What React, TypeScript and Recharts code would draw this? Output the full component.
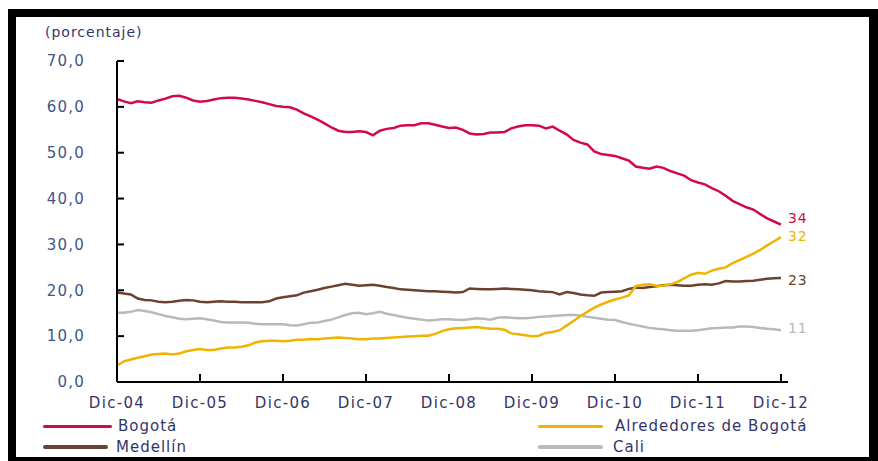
import React from 'react';
import { LineChart, Line, XAxis, YAxis } from 'recharts';

const tickLabels = ['Dic-04', 'Dic-05', 'Dic-06', 'Dic-07', 'Dic-08', 'Dic-09', 'Dic-10', 'Dic-11', 'Dic-12'];
const yTicks = [0, 10, 20, 30, 40, 50, 60, 70];

const bogota = [
  61.7, 61.2, 60.8, 61.2, 61.0, 60.9, 61.4, 61.8, 62.3, 62.4, 62.0, 61.4,
  61.1, 61.3, 61.6, 61.9, 62.0, 62.0, 61.8, 61.6, 61.3, 61.0, 60.6, 60.2,
  60.0, 59.9, 59.4, 58.6, 57.9, 57.2, 56.4, 55.5, 54.8, 54.5, 54.5, 54.7,
  54.5, 53.8, 54.8, 55.2, 55.4, 55.9, 56.0, 56.0, 56.4, 56.4, 56.1, 55.7,
  55.4, 55.5, 55.0, 54.2, 54.0, 54.1, 54.4, 54.4, 54.5, 55.3, 55.7, 56.0,
  56.0, 55.9, 55.3, 55.7, 54.8, 54.0, 52.8, 52.2, 51.8, 50.3, 49.7, 49.5,
  49.3, 48.8, 48.3, 47.0, 46.7, 46.5, 47.0, 46.7, 46.0, 45.5, 45.0, 44.0,
  43.5, 43.1, 42.3, 41.6, 40.6, 39.5, 38.8, 38.1, 37.6, 36.6, 35.7, 35.0,
  34.3,
];

const alrededores = [
  3.6, 4.5, 4.9, 5.3, 5.6, 6.0, 6.1, 6.2, 6.0, 6.2, 6.7, 7.0,
  7.2, 7.0, 7.0, 7.3, 7.5, 7.5, 7.7, 8.0, 8.6, 8.9, 9.0, 9.0,
  8.9, 9.0, 9.2, 9.2, 9.4, 9.3, 9.5, 9.6, 9.7, 9.6, 9.5, 9.3,
  9.3, 9.5, 9.5, 9.6, 9.7, 9.8, 9.9, 10.0, 10.1, 10.1, 10.5, 11.1,
  11.5, 11.7, 11.8, 11.9, 12.0, 11.8, 11.6, 11.6, 11.4, 10.6, 10.4, 10.2,
  10.0, 10.1, 10.7, 10.9, 11.3, 12.3, 13.3, 14.4, 15.3, 16.2, 16.9, 17.5,
  18.0, 18.4, 18.9, 20.9, 21.2, 21.3, 21.0, 21.0, 21.3, 21.8, 22.6, 23.4,
  23.8, 23.6, 24.3, 24.7, 25.0, 25.9, 26.6, 27.3, 28.0, 28.8, 29.8, 30.7,
  31.6,
];

const medellin = [
  19.5, 19.3, 19.1, 18.2, 17.9, 17.8, 17.5, 17.4, 17.5, 17.7, 17.9, 17.8,
  17.5, 17.4, 17.5, 17.6, 17.5, 17.5, 17.4, 17.4, 17.4, 17.4, 17.6, 18.2,
  18.5, 18.7, 18.9, 19.5, 19.8, 20.1, 20.5, 20.8, 21.1, 21.4, 21.2, 21.0,
  21.1, 21.2, 21.0, 20.7, 20.5, 20.2, 20.1, 20.0, 19.9, 19.8, 19.8, 19.7,
  19.6, 19.5, 19.6, 20.4, 20.3, 20.2, 20.2, 20.3, 20.4, 20.3, 20.2, 20.1,
  20.0, 19.8, 19.7, 19.6, 19.1, 19.6, 19.4, 19.1, 18.9, 18.8, 19.5, 19.6,
  19.7, 19.8, 20.3, 20.6, 20.5, 20.7, 20.9, 21.1, 21.2, 21.1, 21.0, 21.0,
  21.2, 21.3, 21.2, 21.5, 22.0, 21.9, 21.9, 22.0, 22.1, 22.3, 22.5, 22.6,
  22.7,
];

const cali = [
  15.1, 15.1, 15.3, 15.7, 15.5, 15.2, 14.8, 14.4, 14.1, 13.8, 13.7, 13.8,
  13.9, 13.7, 13.4, 13.1, 13.0, 13.0, 13.0, 12.9, 12.7, 12.6, 12.6, 12.6,
  12.6, 12.4, 12.3, 12.6, 12.9, 13.0, 13.3, 13.6, 14.1, 14.6, 15.0, 15.1,
  14.8, 15.0, 15.3, 14.9, 14.6, 14.3, 14.0, 13.8, 13.6, 13.4, 13.5, 13.7,
  13.7, 13.6, 13.5, 13.7, 13.9, 13.8, 13.6, 14.0, 14.1, 14.0, 13.9, 13.9,
  14.0, 14.2, 14.3, 14.4, 14.5, 14.6, 14.6, 14.5, 14.2, 14.0, 13.8, 13.6,
  13.5, 13.1, 12.7, 12.4, 12.1, 11.8, 11.6, 11.5, 11.3, 11.2, 11.2, 11.2,
  11.3, 11.5, 11.7, 11.8, 11.9, 11.9, 12.1, 12.1, 12.0, 11.8, 11.6, 11.5,
  11.3,
];

const data = bogota.map((v, i) => ({
  i,
  bogota: v,
  alrededores: alrededores[i],
  medellin: medellin[i],
  cali: cali[i],
}));

const lastIndex = bogota.length - 1;

const COLORS = {
  bogota: '#d20b47',
  alrededores: '#f0b400',
  medellin: '#6b4230',
  cali: '#b9b9b9',
};

const FONT = '"DejaVu Sans", sans-serif';
const TEXT_NAVY = '#33356a';

const endLabel = (color: string, dy: number) => (props: any) => {
  const { x, y, index, value } = props;
  if (index !== lastIndex || x == null || y == null) return null;
  return (
    <text
      x={x + 7}
      y={y + dy}
      fill={color}
      fontSize={14}
      fontFamily={FONT}
      letterSpacing={0.8}
      dominantBaseline="central"
    >
      {Math.round(value)}
    </text>
  );
};

const legendItems = [
  { name: 'Bogotá', color: COLORS.bogota, x: 43, lineW: 69, textX: 118, y: 426, h: 3 },
  { name: 'Medellín', color: COLORS.medellin, x: 43, lineW: 65, textX: 116, y: 447, h: 4 },
  { name: 'Alrededores de Bogotá', color: COLORS.alrededores, x: 538, lineW: 65, textX: 615, y: 426, h: 3 },
  { name: 'Cali', color: COLORS.cali, x: 538, lineW: 65, textX: 613, y: 447, h: 4 },
];

export default function App() {
  return (
    <div style={{ position: 'absolute', left: 0, top: 0, width: 878, height: 461, background: '#fff', overflow: 'hidden' }}>
      <div
        style={{
          position: 'absolute',
          left: 8,
          top: 9,
          width: 870,
          height: 452,
          boxSizing: 'border-box',
          borderLeft: '8px solid #000',
          borderTop: '8px solid #000',
          borderRight: '9px solid #000',
          borderBottom: '4px solid #000',
        }}
      />
      <div
        style={{
          position: 'absolute',
          left: 45,
          top: 22,
          fontFamily: FONT,
          fontSize: 14,
          letterSpacing: 1,
          color: TEXT_NAVY,
          lineHeight: '20px',
        }}
      >
        (porcentaje)
      </div>
      <div style={{ position: 'absolute', left: 0, top: 0 }}>
        <LineChart width={878} height={461} data={data} margin={{ top: 61, right: 90, bottom: 49, left: 0 }}>
          <XAxis
            dataKey="i"
            type="number"
            domain={[0, 96]}
            ticks={[0, 12, 24, 36, 48, 60, 72, 84, 96]}
            tickFormatter={(v: number) => tickLabels[v / 12]}
            padding={{ left: 0, right: 7 }}
            axisLine={{ stroke: '#000', strokeWidth: 2 }}
            tickLine={{ stroke: '#000', strokeWidth: 2 }}
            tickSize={-8}
            tickMargin={23}
            height={30}
            interval={0}
            tick={{ fill: TEXT_NAVY, fontSize: 15, fontFamily: FONT, letterSpacing: 1.3 }}
          />
          <YAxis
            type="number"
            domain={[0, 70]}
            ticks={yTicks}
            tickFormatter={(v: number) => v.toFixed(1).replace('.', ',')}
            width={117}
            axisLine={{ stroke: '#000', strokeWidth: 2 }}
            tickLine={{ stroke: '#000', strokeWidth: 2 }}
            tickSize={-7}
            tickMargin={39}
            interval={0}
            tick={{ fill: '#42558a', fontSize: 15, fontFamily: FONT, letterSpacing: 1.2 }}
          />
          <Line
            dataKey="cali"
            stroke={COLORS.cali}
            strokeWidth={2.5}
            dot={false}
            isAnimationActive={false}
            label={endLabel(COLORS.cali, -2)}
          />
          <Line
            dataKey="medellin"
            stroke={COLORS.medellin}
            strokeWidth={2.5}
            dot={false}
            isAnimationActive={false}
            label={endLabel(COLORS.medellin, 2)}
          />
          <Line
            dataKey="alrededores"
            stroke={COLORS.alrededores}
            strokeWidth={2.5}
            dot={false}
            isAnimationActive={false}
            label={endLabel(COLORS.alrededores, -1)}
          />
          <Line
            dataKey="bogota"
            stroke={COLORS.bogota}
            strokeWidth={2.5}
            dot={false}
            isAnimationActive={false}
            label={endLabel(COLORS.bogota, -7)}
          />
        </LineChart>
      </div>
      {legendItems.map((it) => (
        <React.Fragment key={it.name}>
          <div
            style={{
              position: 'absolute',
              left: it.x,
              top: it.y - it.h / 2,
              width: it.lineW,
              height: it.h,
              background: it.color,
              borderRadius: 2,
            }}
          />
          <div
            style={{
              position: 'absolute',
              left: it.textX,
              top: it.y - 10,
              lineHeight: '20px',
              fontFamily: FONT,
              fontSize: 15,
              letterSpacing: 1,
              color: TEXT_NAVY,
              whiteSpace: 'nowrap',
            }}
          >
            {it.name}
          </div>
        </React.Fragment>
      ))}
    </div>
  );
}
